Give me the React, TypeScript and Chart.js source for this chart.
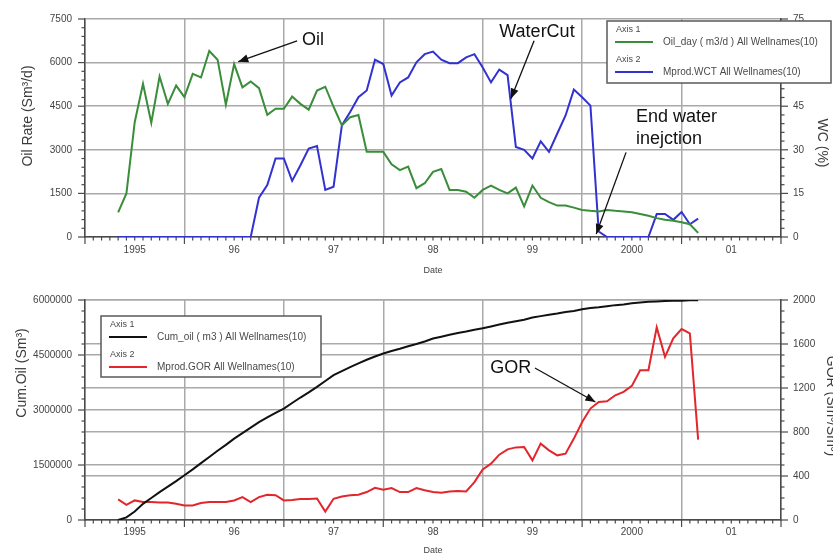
import React, { useEffect, useRef } from 'react';
import { Chart, registerables } from 'chart.js';

Chart.register(...registerables);

const FONT = '"Liberation Sans", Arial, Helvetica, sans-serif';
const GRID = '#a9a9a9';
const AXIS = '#4a4a4a';
const TICK = '#444444';
const GREEN = '#3a8d3a';
const BLUE = '#3232d2';
const BLACK = '#111111';
const RED = '#e3262b';

// x axis in months, counted from the first yearly grid line
const firstMonth = 4;
const xMax = 84;
const yearLabels = ['1995', '96', '97', '98', '99', '2000', '01'];

// monthly values, first month = firstMonth
const oilRate = [
  850, 1500, 3950, 5270, 3930, 5520, 4580, 5210, 4810, 5610,
  5490, 6400, 6100, 4550, 5950, 5150, 5350, 5120, 4200, 4410,
  4410, 4830, 4580, 4380, 5040, 5170, 4480, 3840, 4120, 4200,
  2930, 2930, 2930, 2500, 2300, 2420, 1680, 1850, 2240, 2340,
  1620, 1620, 1560, 1350, 1620, 1770, 1620, 1500, 1700, 1050,
  1770, 1350, 1200, 1080, 1080, 1010, 930, 900, 880, 930,
  900, 880, 850, 790, 730, 650, 590, 560, 510, 440,
  140,
];

const waterCut = [
  0, 0, 0, 0, 0, 0, 0, 0, 0, 0, 0, 0, 0, 0, 0, 0, 0,
  13.5, 17.9, 27.0, 27.0, 19.3, 24.7, 30.4, 31.3, 16.2, 17.3,
  38.4, 43.0, 48.1, 50.4, 61.0, 59.5, 48.7, 53.2, 54.9, 60.1,
  62.9, 63.8, 61.0, 59.8, 59.8, 61.8, 62.9, 58.3, 53.2, 57.6,
  55.7, 31.0, 30.0, 27.0, 32.9, 29.3, 35.6, 41.8, 50.7, 48.1,
  45.2, 1.9, 0, 0, 0, 0, 0, 0, 7.9, 7.9,
  5.9, 8.6, 4.4, 6.3,
];

const cumOil = [
  0, 70000, 230000, 440000, 600000, 760000, 910000, 1060000, 1220000, 1380000,
  1550000, 1720000, 1890000, 2050000, 2220000, 2370000, 2520000, 2670000, 2800000, 2920000,
  3040000, 3190000, 3340000, 3480000, 3630000, 3790000, 3950000, 4060000, 4170000, 4270000,
  4370000, 4460000, 4540000, 4610000, 4670000, 4740000, 4800000, 4870000, 4950000, 5000000,
  5050000, 5100000, 5140000, 5190000, 5230000, 5280000, 5330000, 5380000, 5420000, 5460000,
  5520000, 5560000, 5600000, 5630000, 5670000, 5700000, 5750000, 5780000, 5800000, 5830000,
  5860000, 5880000, 5910000, 5930000, 5950000, 5960000, 5970000, 5980000, 5980000, 5990000,
  5990000,
];

const gor = [
  187, 138, 178, 164, 164, 160, 160, 148, 132, 132,
  155, 164, 164, 164, 178, 208, 162, 208, 230, 225,
  178, 182, 190, 190, 196, 77, 193, 214, 225, 230,
  254, 293, 276, 290, 254, 254, 290, 270, 254, 248,
  260, 263, 260, 344, 460, 512, 594, 642, 660, 663,
  542, 694, 633, 588, 603, 740, 891, 1013, 1073, 1080,
  1134, 1165, 1219, 1362, 1362, 1751, 1483, 1651, 1736, 1696,
  730,
];

const oilAxis = { min: 0, max: 7500, step: 1500, minor: 300 };
const wcAxis = { min: 0, max: 75, step: 15, minor: 3 };
const cumAxis = { min: 0, max: 6000000, step: 1500000, minor: 300000 };
const gorAxis = { min: 0, max: 2000, step: 400, minor: 100 };

// annotations in data units (month, value on the named axis)
const topNotes = [
  { axis: 'y', lines: ['Oil'], text: [26.2, 6780], from: [25.6, 6750], to: [18.5, 6030] },
  { axis: 'y', lines: ['WaterCut'], text: [50.0, 7055], from: [54.2, 6750], to: [51.4, 4760] },
  { axis: 'y', lines: ['End water', 'inejction'], text: [66.5, 4144], from: [65.3, 2911], to: [61.7, 103] },
];
const bottomNotes = [
  { axis: 'y2', lines: ['GOR'], text: [48.9, 1382], from: [54.3, 1382], to: [61.6, 1073] },
];

const topLegend = [
  { axis: 'Axis 1', label: 'Oil_day ( m3/d ) All Wellnames(10)', color: GREEN },
  { axis: 'Axis 2', label: 'Mprod.WCT All Wellnames(10)', color: BLUE },
];
const bottomLegend = [
  { axis: 'Axis 1', label: 'Cum_oil ( m3 ) All Wellnames(10)', color: BLACK },
  { axis: 'Axis 2', label: 'Mprod.GOR All Wellnames(10)', color: RED },
];

const toPoints = (arr: number[]) => arr.map((v, i) => ({ x: firstMonth + i, y: v }));

function drawArrow(ctx: CanvasRenderingContext2D, x1: number, y1: number, x2: number, y2: number) {
  ctx.beginPath();
  ctx.moveTo(x1, y1);
  ctx.lineTo(x2, y2);
  ctx.stroke();
  const a = Math.atan2(y2 - y1, x2 - x1);
  const len = 10;
  const w = 4;
  const bx = x2 - len * Math.cos(a);
  const by = y2 - len * Math.sin(a);
  ctx.beginPath();
  ctx.moveTo(x2, y2);
  ctx.lineTo(bx + w * Math.sin(a), by - w * Math.cos(a));
  ctx.lineTo(bx - w * Math.sin(a), by + w * Math.cos(a));
  ctx.closePath();
  ctx.fill();
}

function makeDeco(spec: any) {
  return {
    id: 'deco',
    afterDraw(chart: any) {
      const ctx: CanvasRenderingContext2D = chart.ctx;
      const area = chart.chartArea;
      ctx.save();
      // tick marks (major + minor)
      ctx.strokeStyle = AXIS;
      ctx.lineWidth = 1.2;
      for (const t of spec.ticks) {
        const s = chart.scales[t.id];
        const n = Math.round((t.max - t.min) / t.minor);
        for (let i = 0; i <= n; i++) {
          const v = t.min + i * t.minor;
          const r = v / t.major;
          const major = Math.abs(r - Math.round(r)) < 1e-6;
          const len = major ? 7 : 3.5;
          ctx.beginPath();
          if (t.side === 'bottom') {
            const x = s.getPixelForValue(v);
            ctx.moveTo(x, area.bottom);
            ctx.lineTo(x, area.bottom + len);
          } else if (t.side === 'left') {
            const y = s.getPixelForValue(v);
            ctx.moveTo(area.left, y);
            ctx.lineTo(area.left - len, y);
          } else {
            const y = s.getPixelForValue(v);
            ctx.moveTo(area.right, y);
            ctx.lineTo(area.right + len, y);
          }
          ctx.stroke();
        }
      }
      // axis titles
      ctx.fillStyle = '#3c3c3c';
      ctx.textAlign = 'center';
      ctx.textBaseline = 'middle';
      for (const tt of spec.titles) {
        ctx.save();
        ctx.translate(tt.x, tt.y);
        ctx.rotate(tt.rot);
        ctx.font = `14px ${FONT}`;
        ctx.fillText(tt.text, 0, 0);
        ctx.restore();
      }
      // legend box
      const L = spec.legend;
      ctx.fillStyle = '#ffffff';
      ctx.fillRect(L.x, L.y, L.w, L.h);
      ctx.strokeStyle = '#5a5a5a';
      ctx.lineWidth = 1.5;
      ctx.strokeRect(L.x, L.y, L.w, L.h);
      ctx.textAlign = 'left';
      L.items.forEach((it: any, i: number) => {
        const base = L.y + i * 30;
        ctx.fillStyle = '#4a4a4a';
        ctx.font = `9px ${FONT}`;
        ctx.fillText(it.axis, L.x + 9, base + 9);
        ctx.strokeStyle = it.color;
        ctx.lineWidth = 2;
        ctx.beginPath();
        ctx.moveTo(L.x + 8, base + 21);
        ctx.lineTo(L.x + 46, base + 21);
        ctx.stroke();
        ctx.font = `10px ${FONT}`;
        ctx.fillText(it.label, L.x + 56, base + 21);
      });
      // annotations
      ctx.strokeStyle = '#111';
      ctx.fillStyle = '#111';
      ctx.lineWidth = 1.3;
      const xs = chart.scales.x;
      for (const n of spec.notes) {
        const ys = chart.scales[n.axis];
        drawArrow(
          ctx,
          xs.getPixelForValue(n.from[0]), ys.getPixelForValue(n.from[1]),
          xs.getPixelForValue(n.to[0]), ys.getPixelForValue(n.to[1]),
        );
        ctx.font = `18px ${FONT}`;
        ctx.textAlign = 'left';
        ctx.textBaseline = 'middle';
        n.lines.forEach((line: string, i: number) => {
          ctx.fillText(line, xs.getPixelForValue(n.text[0]), ys.getPixelForValue(n.text[1]) + i * 22);
        });
      }
      ctx.restore();
    },
  };
}

function xScale(height: number, labelPad: number, titlePad: number) {
  return {
    type: 'linear',
    min: 0,
    max: xMax,
    afterFit: (s: any) => { s.height = height; },
    border: { display: true, color: AXIS, width: 1.5 },
    grid: {
      color: (c: any) => (c.tick && c.tick.value % 12 === 0 ? GRID : 'rgba(0,0,0,0)'),
      lineWidth: 1.5,
      drawTicks: false,
    },
    ticks: {
      stepSize: 6,
      autoSkip: false,
      maxRotation: 0,
      padding: labelPad,
      color: TICK,
      font: { family: FONT, size: 10 },
      callback: (v: number) => (v % 12 === 6 ? yearLabels[(v - 6) / 12] ?? '' : ''),
    },
    title: {
      display: true,
      text: 'Date',
      color: TICK,
      font: { family: FONT, size: 9 },
      padding: { top: 0, bottom: titlePad },
    },
  };
}

function yScale(position: string, ax: any, width: number, pad: number, gridOn: boolean) {
  return {
    type: 'linear',
    position,
    min: ax.min,
    max: ax.max,
    afterFit: (s: any) => { s.width = width; },
    border: { display: true, color: AXIS, width: 1.5 },
    grid: { display: true, drawOnChartArea: gridOn, drawTicks: false, color: GRID, lineWidth: 1.5 },
    ticks: {
      stepSize: ax.step,
      padding: pad,
      color: TICK,
      font: { family: FONT, size: 10 },
      callback: (v: number) => String(v),
    },
  };
}

function lineDs(label: string, data: number[], color: string, axis: string) {
  return {
    label,
    data: toPoints(data),
    borderColor: color,
    backgroundColor: color,
    borderWidth: 2,
    pointRadius: 0,
    tension: 0,
    fill: false,
    yAxisID: axis,
  };
}

export default function App() {
  const topRef = useRef<HTMLCanvasElement | null>(null);
  const botRef = useRef<HTMLCanvasElement | null>(null);

  useEffect(() => {
    const common = {
      animation: false,
      responsive: false,
      devicePixelRatio: 1,
      events: [],
    };
    const top = new Chart(topRef.current as HTMLCanvasElement, {
      type: 'line',
      data: {
        datasets: [
          lineDs(topLegend[0].label, oilRate, GREEN, 'y'),
          lineDs(topLegend[1].label, waterCut, BLUE, 'y2'),
        ],
      },
      options: {
        ...common,
        layout: { padding: { top: 18, left: 0, right: 0, bottom: 0 } },
        plugins: { legend: { display: false }, tooltip: { enabled: false } },
        scales: {
          x: xScale(41, 7, 2),
          y: yScale('left', oilAxis, 85, 13, true),
          y2: yScale('right', wcAxis, 52, 12, false),
        },
      } as any,
      plugins: [
        makeDeco({
          ticks: [
            { id: 'x', side: 'bottom', min: 0, max: xMax, major: 12, minor: 1 },
            { id: 'y', side: 'left', min: oilAxis.min, max: oilAxis.max, major: oilAxis.step, minor: oilAxis.minor },
            { id: 'y2', side: 'right', min: wcAxis.min, max: wcAxis.max, major: wcAxis.step, minor: wcAxis.minor },
          ],
          titles: [
            { text: 'Oil Rate (Sm³/d)', x: 28, y: 116, rot: -Math.PI / 2 },
            { text: 'WC (%)', x: 822, y: 143, rot: Math.PI / 2 },
          ],
          legend: { x: 607, y: 21, w: 224, h: 62, items: topLegend },
          notes: topNotes,
        }),
      ],
    } as any);

    const bot = new Chart(botRef.current as HTMLCanvasElement, {
      type: 'line',
      data: {
        datasets: [
          lineDs(bottomLegend[0].label, cumOil, BLACK, 'y'),
          lineDs(bottomLegend[1].label, gor, RED, 'y2'),
        ],
      },
      options: {
        ...common,
        layout: { padding: { top: 22, left: 0, right: 0, bottom: 0 } },
        plugins: { legend: { display: false }, tooltip: { enabled: false } },
        scales: {
          x: xScale(36, 6, 0),
          y: yScale('left', cumAxis, 85, 13, true),
          y2: yScale('right', gorAxis, 52, 12, true),
        },
      } as any,
      plugins: [
        makeDeco({
          ticks: [
            { id: 'x', side: 'bottom', min: 0, max: xMax, major: 12, minor: 1 },
            { id: 'y', side: 'left', min: cumAxis.min, max: cumAxis.max, major: cumAxis.step, minor: cumAxis.minor },
            { id: 'y2', side: 'right', min: gorAxis.min, max: gorAxis.max, major: gorAxis.step, minor: gorAxis.minor },
          ],
          titles: [
            { text: 'Cum.Oil (Sm³)', x: 22, y: 95, rot: -Math.PI / 2 },
            { text: 'GOR (Sm³/Sm³)', x: 831, y: 128, rot: Math.PI / 2 },
          ],
          legend: { x: 101, y: 38, w: 220, h: 61, items: bottomLegend },
          notes: bottomNotes,
        }),
      ],
    } as any);

    return () => {
      top.destroy();
      bot.destroy();
    };
  }, []);

  return (
    <div style={{ position: 'absolute', left: 0, top: 0, width: 833, height: 556, background: '#fff' }}>
      <canvas ref={topRef} width={833} height={278} style={{ position: 'absolute', left: 0, top: 0 }} />
      <canvas ref={botRef} width={833} height={278} style={{ position: 'absolute', left: 0, top: 278 }} />
    </div>
  );
}
